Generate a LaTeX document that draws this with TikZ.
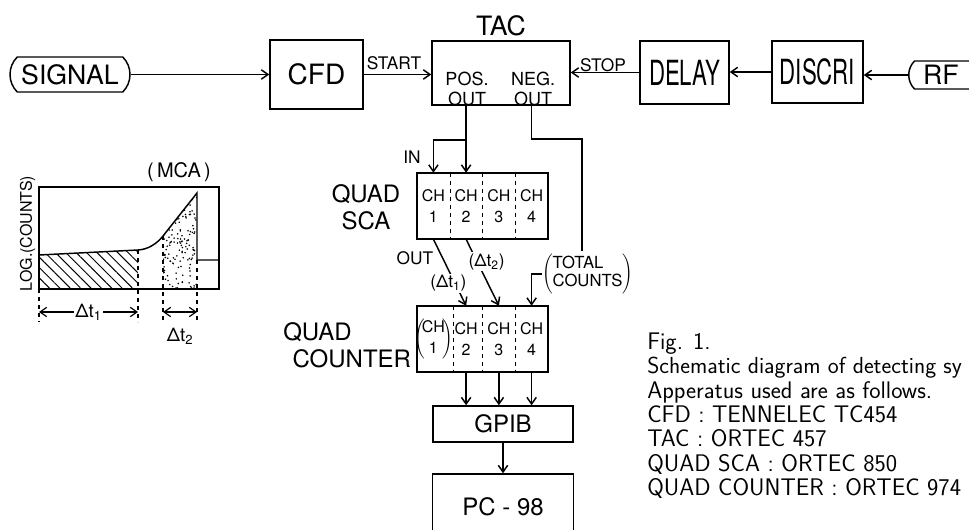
\documentclass[tikz,border=0pt]{standalone}
\usepackage{fontspec}
\newfontfamily\lettering{TeX Gyre Heros}
\newfontfamily\narrowlettering[FakeStretch=0.64]{TeX Gyre Heros}
\usetikzlibrary{arrows.meta,shapes.misc,patterns.meta}

\begin{document}
\begin{tikzpicture}[x=0.75pt,y=-0.75pt]
\tikzset{
  block/.style={draw,line width=1.1pt,inner sep=0pt,font=\lettering},
  terminal/.style={rounded rectangle,rounded rectangle arc length=90,draw,line width=1.1pt,inner sep=0pt,font=\lettering\fontsize{20}{24}\selectfont},
  chcell/.style={inner sep=0pt,minimum width=24.56pt,minimum height=49.5pt,align=center,font=\lettering\fontsize{12}{15.5}\selectfont},
  tag/.style={inner sep=1pt,font=\lettering\fontsize{13}{15}\selectfont},
  signal/.style={-{Straight Barb[length=5pt,width=7pt]},line width=1.1pt},
  dimline/.style={{Straight Barb[length=5pt,width=7pt]}-{Straight Barb[length=5pt,width=7pt]},line width=0.9pt},
  wire/.style={line width=1.1pt},
  divider/.style={dashed,line width=0.8pt},
  caption/.style={anchor=base west,inner sep=0pt,font=\sffamily\fontsize{18}{18}\selectfont}
}
\useasboundingbox (0,0) rectangle (969,529);
\clip (0,0) rectangle (969,529);
% top row
\node[terminal,minimum width=90pt,minimum height=26.25pt] (signal) at (70,74.5) {SIGNAL};
\node[block,minimum width=69.75pt,minimum height=51.75pt,font=\lettering\fontsize{21}{24}\selectfont] (cfd) at (316.5,74.5) {CFD};
\node[block,minimum width=103.5pt,minimum height=48pt] (tac) at (501,73) {};
\node[font=\lettering\fontsize{20}{24}\selectfont] (tac_name) at (501,26) {TAC};
\node[tag,align=center,font=\lettering\fontsize{13.5}{15}\selectfont] (tac_pos) at (467,89) {POS.\\OUT};
\node[tag,align=center,font=\lettering\fontsize{13.5}{15}\selectfont] (tac_neg) at (533,89) {NEG.\\OUT};
\node[block,minimum width=66.75pt,minimum height=47.25pt,font=\narrowlettering\fontsize{26}{28}\selectfont] (delay) at (684.5,72.5) {DELAY};
\node[block,minimum width=68.25pt,minimum height=46.5pt,font=\narrowlettering\fontsize{26}{28}\selectfont] (discri) at (817.5,72) {DISCRI};
\node[terminal,rounded rectangle right arc=none,minimum width=46.5pt,minimum height=21pt] (rf) at (941,75) {RF};
\node[tag] (start_tag) at (394,63) {START};
\node[tag] (stop_tag) at (603,65) {STOP};
\draw[signal] (signal.east) -- (cfd.west);
\draw[signal] (cfd.east) -- (cfd.east -| tac.west);
\draw[signal] (delay.west) -- (delay.west -| tac.east);
\draw[signal] (discri.west) -- (discri.west -| delay.east);
\draw[signal] (rf.west) -- (rf.west -| discri.east);
% quad sca
\node[block,minimum width=98.25pt,minimum height=49.5pt] (sca) at (482.5,206) {};
\node[chcell] (sca1) at (433.4,206) {CH\\1};
\node[chcell] (sca2) at (466.1,206) {CH\\2};
\node[chcell] (sca3) at (498.9,206) {CH\\3};
\node[chcell] (sca4) at (531.6,206) {CH\\4};
\draw[divider] (sca1.north east) -- (sca1.south east);
\draw[divider] (sca2.north east) -- (sca2.south east);
\draw[divider] (sca3.north east) -- (sca3.south east);
\node[align=center,font=\lettering\fontsize{18}{20}\selectfont] (sca_name) at (366,207) {QUAD\\SCA};
\node[tag] (in_tag) at (412,157) {IN};
\node[tag] (out_tag) at (415,258) {OUT};
\coordinate (in_split) at (466.1,140);
\coordinate (neg_turn) at (582,139);
\coordinate (neg_end) at (582,251);
\draw[signal] (sca2 |- tac.south) -- (sca2.north);
\draw[signal] (in_split) -| (sca1.north);
\draw[wire] (sca4 |- tac.south) |- (neg_turn) -- (neg_end);
% quad counter
\node[block,minimum width=98.25pt,minimum height=49.5pt] (cnt) at (482.5,339) {};
\node[chcell] (cnt1) at (433.4,339) {\(\left(\!\begin{tabular}{@{}c@{}}CH\\1\end{tabular}\!\right)\)};
\node[chcell] (cnt2) at (466.1,339) {CH\\2};
\node[chcell] (cnt3) at (498.9,339) {CH\\3};
\node[chcell] (cnt4) at (531.6,339) {CH\\4};
\draw[divider] (cnt1.north east) -- (cnt1.south east);
\draw[divider] (cnt2.north east) -- (cnt2.south east);
\draw[divider] (cnt3.north east) -- (cnt3.south east);
\node[anchor=west,inner sep=0pt,align=left,font=\lettering\fontsize{18}{20}\selectfont] (cnt_name) at (283,345) {QUAD\\\hspace*{7pt}COUNTER};
\node[inner sep=0pt,font=\lettering\fontsize{12.5}{13.5}\selectfont] (total) at (587.5,274) {\(\left(\begin{tabular}{@{}l@{}}TOTAL\\COUNTS\end{tabular}\right)\)};
\draw[signal] (sca1.south) -- node[tag,fill=white,pos=0.66,xshift=-5pt] (dt1_tag) {(Δt\textsubscript{1})} (cnt2.north);
\draw[signal] (sca2.south) -- node[tag,fill=white,pos=0.34,xshift=7pt] (dt2_tag) {(Δt\textsubscript{2})} (cnt3.north);
\draw[signal] (total.west) -| (cnt4.north);
% gpib and pc
\node[block,minimum width=105pt,minimum height=27pt,font=\lettering\fontsize{18}{20}\selectfont] (gpib) at (503,424) {GPIB};
\node[block,minimum width=105.75pt,minimum height=49.5pt,font=\lettering\fontsize{18}{20}\selectfont] (pc) at (503,507) {PC - 98};
\draw[signal] (cnt2.south) -- (cnt2.south |- gpib.north);
\draw[signal] (cnt3.south) -- (cnt3.south |- gpib.north);
\draw[signal] (cnt4.south) -- (cnt4.south |- gpib.north);
\draw[signal] (gpib.south) -- (pc.north);
% mca spectrum
\fill[pattern={Lines[angle=-45,distance=5.5pt,line width=0.7pt]}] (39,289) -- (39,255) -- (138,250) -- (138,289) -- cycle;
\begin{scope}
  \clip (163,289) -- (163,236) -- (197,193) -- (197,289) -- cycle;
  \pgfmathsetseed{11}
  \foreach \d in {1,...,170} {\fill ({163+34*rnd},{193+96*rnd}) circle (0.65pt);}
\end{scope}
\draw[wire] (39,187) rectangle (219,289);
\draw[wire] (39,255) -- (138,250) .. controls (148,249.5) and (157,243.6) .. (163,236) -- (197,193) -- (197,260) -- (219,260);
\draw[divider] (39,289) -- (39,322);
\draw[divider] (138,250) -- (138,322);
\draw[divider] (163,236) -- (163,322);
\draw[divider] (197,260) -- (197,322);
\coordinate (dt1_a) at (39,312);
\coordinate (dt1_b) at (138,312);
\coordinate (dt2_a) at (163,312);
\coordinate (dt2_b) at (197,312);
\draw[dimline] (dt1_a) -- node[fill=white,inner sep=1pt,font=\lettering\fontsize{14}{16}\selectfont] (dt1_mark) {Δt\textsubscript{1}} (dt1_b);
\draw[dimline] (dt2_a) -- (dt2_b);
\node[font=\lettering\fontsize{14}{16}\selectfont] (dt2_mark) at (180,336) {Δt\textsubscript{2}};
\node[font=\lettering\fontsize{15}{17}\selectfont] (mca_name) at (179,172) {(\,MCA\,)};
\node[rotate=90,inner sep=0pt,font=\lettering\fontsize{12}{14}\selectfont] (log_axis) at (27.5,233.5) {LOG.(COUNTS)};
% caption
\node[caption] (cap1) at (647,349.5) {Fig. 1.};
\node[caption,font=\sffamily\fontsize{17.4}{18}\selectfont] (cap2) at (647,373.8) {Schematic diagram of detecting sy};
\node[caption] (cap3) at (647,398.2) {Apperatus used are as follows.};
\node[caption] (cap4) at (647,422.5) {CFD : TENNELEC TC454};
\node[caption] (cap5) at (647,446.8) {TAC : ORTEC 457};
\node[caption] (cap6) at (647,471.2) {QUAD SCA : ORTEC 850};
\node[caption] (cap7) at (647,495.5) {QUAD COUNTER : ORTEC 974};
\end{tikzpicture}
\end{document}
